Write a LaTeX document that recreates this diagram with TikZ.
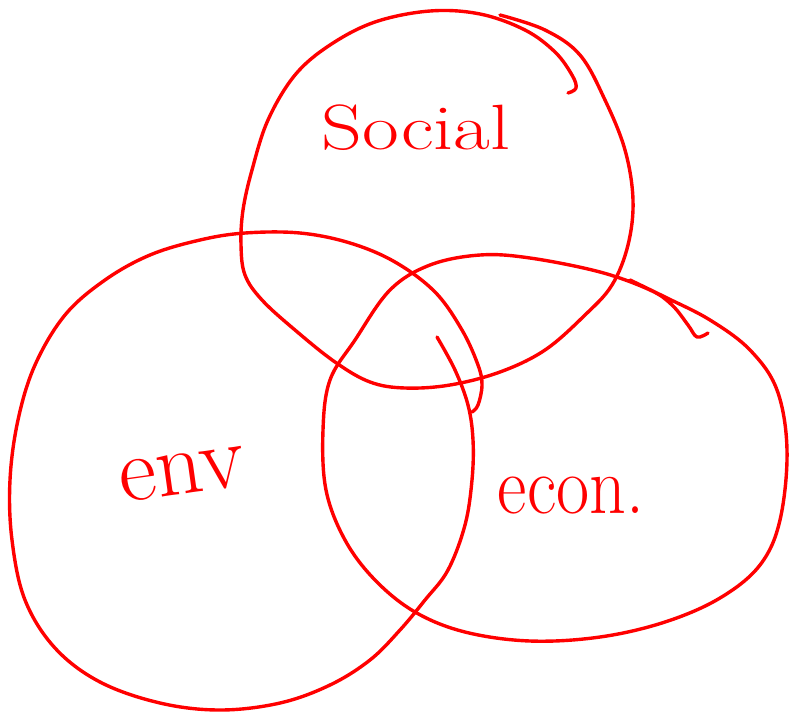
\documentclass[tikz,border=0pt]{standalone}
\usepackage{fontspec}
\setmainfont{Latin Modern Roman}
\begin{document}
\begin{tikzpicture}[x=1pt,y=-1pt,
  stroke/.style={draw=red,line width=3.4pt,line cap=round,line join=round},
  hand/.style={text=red,inner sep=0pt}]
\useasboundingbox (0,0) rectangle (789,713);
% social loop
\draw[stroke] plot[smooth,tension=0.6] coordinates {(500,15) (545,30) (580,55) (605,100) (625,150) (633,200) (628,245) (612,285) (585,315) (545,350) (500,372) (450,385) (405,388) (370,382) (335,362) (295,330) (262,300) (245,275) (241,245) (243,210) (252,170) (268,120) (295,75) (330,45) (375,22) (430,11) (480,14) (525,30) (555,52) (572,75) (576,88) (568,93)};
% env loop
\draw[stroke] plot[smooth,tension=0.6] coordinates {(437,337) (455,370) (468,405) (473,440) (472,480) (465,525) (448,570) (425,600) (400,630) (370,660) (330,685) (280,703) (220,710) (160,703) (100,682) (55,648) (25,600) (12,540) (10,480) (18,420) (35,365) (65,315) (105,280) (150,255) (200,240) (245,233) (300,233) (350,243) (395,262) (435,292) (462,330) (478,365) (482,385) (478,405) (472,412)};
% econ loop
\draw[stroke] plot[smooth,tension=0.6] coordinates {(708,333) (697,337) (688,325) (672,305) (650,290) (600,272) (530,258) (480,255) (430,265) (390,290) (355,340) (330,380) (323,430) (326,490) (345,540) (375,580) (415,612) (465,632) (530,641) (600,637) (665,622) (720,598) (760,565) (780,520) (787,450) (777,390) (750,350) (710,320) (665,297) (630,280)};
\node[hand,font=\fontsize{64}{64}\selectfont,xscale=1.25] (social) at (416,128) {Social};
\node[hand,font=\fontsize{92}{92}\selectfont,rotate=8] (env) at (182,474) {env};
\node[hand,font=\fontsize{72}{72}\selectfont,yscale=1.15] (econ) at (571,496) {econ.};
\end{tikzpicture}
\end{document}
